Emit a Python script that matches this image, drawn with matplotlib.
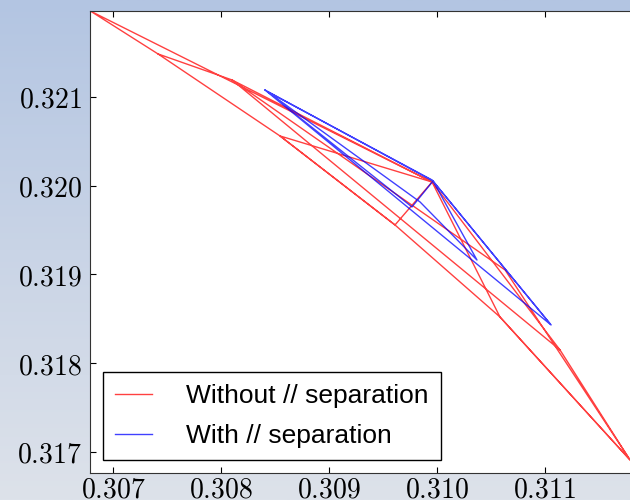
import numpy as np
import matplotlib
matplotlib.use("Agg")
import matplotlib.pyplot as plt
from matplotlib.colors import LinearSegmentedColormap
from matplotlib.ticker import FuncFormatter, MultipleLocator

plt.rcParams["mathtext.fontset"] = "cm"

# red path ("Without // separation")
red_x = [0.307417, 0.308546, 0.309611, 0.310583, 0.311787, 0.311139, 0.309954,
         0.306790, 0.307417, 0.308102, 0.309954, 0.308546, 0.309611, 0.309954,
         0.310583, 0.311787, 0.310630, 0.308102, 0.311139]
red_y = [0.321485, 0.320561, 0.319558, 0.318521, 0.316910, 0.318149, 0.320042,
         0.321969, 0.321485, 0.321192, 0.320042, 0.320561, 0.319558, 0.320042,
         0.318521, 0.316910, 0.319051, 0.321192, 0.318149]

# blue path ("With // separation")
blue_x = [0.308407, 0.309963, 0.311056, 0.308407, 0.309768, 0.309963, 0.310370,
          0.309843, 0.308430, 0.309954, 0.311050]
blue_y = [0.321079, 0.320053, 0.318431, 0.321079, 0.319761, 0.320053, 0.319163,
          0.319817, 0.321060, 0.320065, 0.318440]

fig = plt.figure(figsize=(6.3, 5.0), dpi=100)

# photo-like backdrop behind the axes
bg = fig.add_axes([0, 0, 1, 1], zorder=-1)
cmap = LinearSegmentedColormap.from_list("sky", ["#b3c5e2", "#c9d4e6", "#dde2ea"])
bg.imshow(np.linspace(0, 1, 256)[:, None], aspect="auto", cmap=cmap,
          extent=[0, 1, 0, 1])
bg.axis("off")

ax = fig.add_axes([90 / 630, 27 / 500, 560 / 630, 462 / 500])
ax.plot(red_x, red_y, color="red", alpha=0.75, lw=1.0, label="Without // separation")
ax.plot(blue_x, blue_y, color="blue", alpha=0.75, lw=1.0, label="With // separation")

ax.set_xlim(0.306787, 0.311972)
ax.set_ylim(0.316763, 0.321969)
ax.xaxis.set_major_locator(MultipleLocator(0.001))
ax.yaxis.set_major_locator(MultipleLocator(0.001))
fmt = FuncFormatter(lambda v, p: r"$%.3f$" % v)
ax.xaxis.set_major_formatter(fmt)
ax.yaxis.set_major_formatter(fmt)
ax.tick_params(direction="in", top=True, right=True, length=4, width=0.8,
               labelsize=20)
ax.tick_params(axis="x", pad=2)
ax.tick_params(axis="y", pad=6)
for s in ax.spines.values():
    s.set_color("#333333")

leg = ax.legend(loc="lower left", prop={"family": "Liberation Sans", "size": 19},
                borderaxespad=0.5, borderpad=0.45, handlelength=1.4,
                handletextpad=1.3, labelspacing=0.6, fancybox=False,
                framealpha=1, edgecolor="black")
leg.get_frame().set_linewidth(1.0)

fig.savefig("out.png", dpi=100)
